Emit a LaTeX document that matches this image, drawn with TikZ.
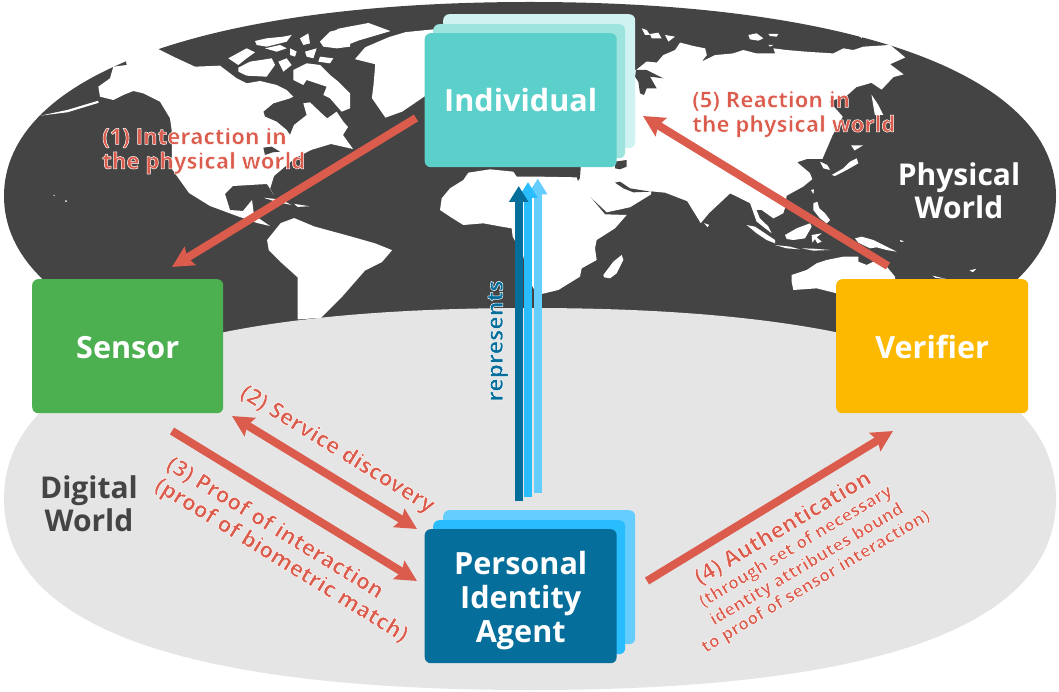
\documentclass[tikz,border=0pt]{standalone}
\usepackage{fontspec}
\setmainfont{Open Sans}
\usetikzlibrary{arrows.meta}
\definecolor{darkmap}{HTML}{444444}
\definecolor{graymap}{HTML}{E5E5E5}
\definecolor{redarrow}{HTML}{DB5C4C}
\definecolor{tealA}{HTML}{5BCFC9}
\definecolor{tealB}{HTML}{9DE3DE}
\definecolor{tealC}{HTML}{CFF3F1}
\definecolor{blueA}{HTML}{056E9B}
\definecolor{blueB}{HTML}{29BDFD}
\definecolor{blueC}{HTML}{66CEFF}
\definecolor{greenbox}{HTML}{4CAF50}
\definecolor{yellowbox}{HTML}{FDB900}
\newcommand{\halotext}[1]{\special{pdf:code q 2 Tr 0.5 w 1 j 1 1 1 RG}#1\special{pdf:code Q}}
\tikzset{
  x=1pt,y=-1pt,
  box/.style={rounded corners=6pt,minimum width=192pt,minimum height=134pt,inner sep=0pt,anchor=north west},
  boxtext/.style={text=white,font=\bfseries\fontsize{30.6}{34}\selectfont,align=center,inner sep=0pt},
  sidelabel/.style={text=white,font=\bfseries\fontsize{30}{33}\selectfont,align=center,inner sep=0pt},
  redline/.style={draw=redarrow,line width=8pt},
  redtip/.style={-{Stealth[length=21pt,width=21pt,inset=3pt]}},
  redtips/.style={{Stealth[length=21pt,width=21pt,inset=3pt]}-{Stealth[length=21pt,width=21pt,inset=3pt]}},
  repline/.style={line width=8.4pt,-{Triangle[length=16pt,width=18.5pt]}},
  redlabel/.style={text=redarrow,inner sep=0pt,align=left},
  big/.style={font=\bfseries\fontsize{22.2}{26}\selectfont},
  small/.style={font=\bfseries\fontsize{17.5}{20}\selectfont},
  land/.style={fill=white,draw=none},
  sea/.style={fill=darkmap,draw=none},
}
\begin{document}
\begin{tikzpicture}
\useasboundingbox (0,0) rectangle (1059,692);
\fill[white] (0,0) rectangle (1059,692);
% dark physical world
\fill[darkmap] (4,196) .. controls (4,76) and (204,2) .. (530,2) .. controls (856,2) and (1056,76) .. (1056,196) .. controls (1056,316) and (856,390) .. (530,390) .. controls (204,390) and (4,316) .. (4,196) -- cycle;
% America, first crop scale
\begin{scope}[xscale=0.33807,yscale=0.33807]
\fill[land] (120,342)--(200,325)--(290,298)--(292,304)--(200,332)--cycle;
\fill[land] (947,124)--(1000,85)--(1090,68)--(1155,92)--(1060,120)--(1010,140)--(965,135)--cycle;
\fill[land] (1050,175)--(1080,140)--(1150,110)--(1200,95)--(1300,85)--(1300,280)--(1256,285)--(1190,330)--(1140,348)--(1100,290)--(1105,250)--(1110,190)--cycle;
\fill[land] (790,710)--(830,660)--(870,645)--(930,670)--(1040,700)--(1110,720)--(1160,740)--(1130,775)--(1080,800)--(1010,880)--(950,940)--(880,945)--(880,820)--(830,775)--(795,740)--cycle;
\fill[land] (780,585)--(830,590)--(862,606)--(820,598)--cycle;
\fill[land] (870,603)--(915,610)--(880,612)--cycle;
\fill[land] (160,578) circle (2) (195,595) circle (3);
\end{scope}
% North America
\begin{scope}[shift={(90,15)},xscale=1/3,yscale=1/3]
\fill[land] (25,215)--(60,190)--(70,155)--(110,150)--(105,120)--(150,108)--(200,100)--(250,125)--(315,155)--(390,152)--(440,190)--(470,205)--(510,198)--(560,210)--(590,225)--(610,245)--(600,250)--(550,265)--(520,290)--(525,305)--(560,320)--(590,345)--(600,360)--(612,330)--(650,300)--(640,265)--(660,262)--(700,300)--(712,310)--(740,290)--(760,320)--(774,336)--(759,360)--(789,402)--(723,387)--(663,405)--(612,432)--(552,483)--(540,522)--(552,540)--(531,507)--(429,513)--(405,537)--(420,585)--(459,588)--(486,555)--(492,600)--(540,633)--(501,624)--(441,603)--(360,573)--(297,534)--(267,492)--(246,462)--(245,345)--(240,310)--(225,285)--(210,260)--(160,235)--(130,228)--(100,240)--(70,255)--(30,245)--cycle;
\fill[sea] (520,398)--(545,395)--(570,410)--(548,412)--(525,420)--cycle;
\fill[land] (415,130)--(470,100)--(495,112)--(470,130)--(445,150)--cycle;
\fill[land] (445,158)--(480,140)--(545,130)--(555,150)--(530,185)--(470,182)--(445,170)--cycle;
\fill[land] (495,78)--(530,70)--(580,65)--(605,60)--(590,80)--(530,95)--(500,90)--cycle;
\fill[land] (525,100)--(570,90)--(590,100)--(560,110)--cycle;
\fill[land] (630,70)--(655,55)--(660,85)--(640,90)--cycle;
\fill[land] (565,140)--(590,130)--(605,150)--(580,170)--cycle;
\fill[land] (600,100)--(620,110)--(615,125)--(600,120)--cycle;
\fill[land] (645,110)--(680,100)--(670,130)--(650,125)--cycle;
\fill[land] (690,125)--(730,130)--(720,145)--(685,140)--cycle;
\fill[land] (610,165)--(650,145)--(690,150)--(720,180)--(745,200)--(780,235)--(780,280)--(755,290)--(720,250)--(700,240)--(710,215)--(680,205)--(650,195)--(640,210)--(610,195)--cycle;
\fill[land] (690,80)--(720,50)--(780,35)--(780,95)--(740,100)--(700,95)--cycle;
\end{scope}
% Africa
\begin{scope}[shift={(430,160)},xscale=1/3,yscale=1/3]
\fill[land] (30,150)--(35,115)--(60,85)--(100,60)--(115,38)--(180,28)--(250,35)--(260,50)--(330,50)--(440,52)--(445,68)--(525,163)--(590,165)--(555,205)--(500,240)--(495,265)--(500,300)--(455,325)--(450,350)--(385,390)--(335,402)--(310,385)--(295,350)--(280,290)--(265,260)--(248,230)--(245,205)--(215,200)--(160,190)--(100,195)--(60,170)--cycle;
\fill[land] (520,345)--(550,305)--(575,285)--(580,300)--(560,340)--(540,355)--(522,352)--cycle;
\end{scope}
% Eurasia
\begin{scope}[shift={(530,0)},xscale=0.33807,yscale=0.33807]
\fill[land] (148,527)--(150,495)--(100,400)--(200,210)--(314,207)--(345,182)--(375,185)--(394,163)--(429,148)--(444,126)--(483,136)--(518,143)--(523,163)--(508,182)--(547,163)--(601,158)--(631,148)--(670,158)--(725,158)--(720,143)--(759,148)--(818,153)--(897,158)--(927,143)--(956,148)--(986,138)--(1065,133)--(1080,145)--(1110,170)--(1065,190)--(1105,220)--(1075,228)--(1040,265)--(1010,245)--(965,258)--(935,285)--(885,300)--(925,345)--(895,400)--(865,470)--(820,470)--(790,480)--(828,512)--(835,530)--(808,552)--(759,579)--(754,616)--(749,631)--(720,646)--(685,621)--(670,621)--(680,646)--(705,670)--(715,690)--(695,675)--(670,655)--(651,601)--(621,586)--(592,572)--(530,630)--(505,660)--(465,595)--(400,570)--(358,566)--(358,575)--(296,613)--(227,628)--(177,581)--(138,542)--cycle;
\fill[land] (515,660)--(530,665)--(525,672)--cycle;
\fill[land] (950,430)--(985,430)--(960,445)--cycle;
\fill[land] (1010,280)--(1030,310)--(1045,340)--(1020,340)--cycle;
\fill[land] (1300,800)--(1320,795)--(1310,805)--cycle;
\fill[land] (1190,815)--(1230,825)--(1200,822)--cycle;
\end{scope}
\begin{scope}[shift={(430,160)},xscale=1/3,yscale=1/3]
\fill[sea] (555,5)--(590,0)--(590,20)--(570,28)--(555,25)--cycle;
\fill[sea] (555,68)--(570,65)--(600,85)--(662,95)--(610,97)--(580,85)--cycle;
\end{scope}
% Siberia details
\begin{scope}[shift={(630,20)},xscale=1/3,yscale=1/3]
\fill[sea] (18,150)--(50,150)--(100,175)--(60,170)--(80,205)--(50,205)--(42,225)--(30,220)--(25,185)--(15,170)--cycle;
\fill[land] (35,25)--(50,30)--(60,45)--(45,45)--cycle;
\fill[land] (60,42)--(85,38)--(95,55)--(65,55)--cycle;
\fill[land] (105,45)--(135,50)--(115,65)--cycle;
\fill[land] (355,45)--(380,40)--(400,55)--(385,62)--(360,58)--cycle;
\fill[land] (415,42)--(445,42)--(440,50)--(420,48)--cycle;
\fill[land] (415,75)--(430,75)--(420,80)--cycle;
\fill[land] (685,45)--(700,40)--(695,55)--cycle;
\end{scope}
% Asia-Pacific
\begin{scope}[shift={(730,160)},xscale=1/3,yscale=1/3]
\fill[land] (50,195)--(75,200)--(105,220)--(135,240)--(135,250)--(110,240)--(80,220)--cycle;
\fill[land] (135,255)--(180,260)--(210,268)--(170,265)--cycle;
\fill[land] (215,265)--(250,266)--(300,270)--(250,272)--cycle;
\fill[land] (165,225)--(200,205)--(240,190)--(245,200)--(225,235)--(190,240)--(170,237)--cycle;
\fill[land] (245,225)--(275,220)--(260,232)--(275,245)--(262,250)--(255,237)--(247,248)--cycle;
\fill[land] (250,130)--(262,125)--(268,145)--(285,160)--(300,180)--(290,190)--(270,175)--(250,150)--cycle;
\fill[land] (243,90)--(252,88)--(250,102)--cycle;
\fill[land] (305,45)--(340,25)--(360,5)--(380,-5)--(385,10)--(350,30)--(315,48)--cycle;
\fill[land] (270,5)--(292,15)--(300,30)--(280,25)--cycle;
\fill[land] (375,235)--(395,230)--(430,240)--(470,260)--(500,275)--(470,270)--(440,262)--(420,265)--(385,248)--cycle;
\fill[land] (510,240)--(522,244)--(512,246)--cycle;
\fill[land] (185,345)--(230,330)--(260,310)--(290,300)--(340,290)--(385,290)--(385,305)--(410,315)--(430,305)--(470,320)--(495,350)--(495,400)--(320,400)--(260,385)--(190,390)--(185,365)--cycle;
\end{scope}
% gray digital world
\fill[graymap] (4,499) .. controls (4,372) and (182,308) .. (530,308) .. controls (878,308) and (1056,372) .. (1056,499) .. controls (1056,626) and (878,690) .. (530,690) .. controls (182,690) and (4,626) .. (4,499) -- cycle;
% world labels
\node[sidelabel] (physical) at (959,191) {Physical\\World};
\node[sidelabel,text=darkmap] (digital) at (89,504) {Digital\\World};
% boxes
\node[box,fill=tealC] (indC) at (443,14) {};
\node[box,fill=tealB] (indB) at (433,24) {};
\node[box,fill=tealA] (individual) at (424.5,33) {};
\node[box,fill=blueC] (pidC) at (443,510) {};
\node[box,fill=blueB] (pidB) at (433,520) {};
\node[box,fill=blueA] (agent) at (424.5,529) {};
\node[box,fill=greenbox,minimum width=191pt] (sensor) at (32,279) {};
\node[box,fill=yellowbox] (verifier) at (836,279) {};
\node[boxtext] (individualtext) at ([yshift=0pt]individual.center) {Individual};
\node[boxtext] (agenttext) at ([yshift=-4pt]agent.center) {Personal\\Identity\\Agent};
\node[boxtext] (sensortext) at ([yshift=-1pt]sensor.center) {Sensor};
\node[boxtext] (verifiertext) at ([yshift=-1pt]verifier.center) {Verifier};
% arrow end points
\coordinate (a1s) at (416,118); \coordinate (a1e) at (172,267);
\coordinate (a2s) at (232,416); \coordinate (a2e) at (417,529);
\coordinate (a3s) at (172,431); \coordinate (a3e) at (417,581);
\coordinate (a4s) at (647,581); \coordinate (a4e) at (893,431);
\coordinate (a5s) at (888,266); \coordinate (a5e) at (643,116);
\draw[redline,redtip] (a1s) -- (a1e);
\draw[redline,redtips] (a2s) -- (a2e);
\draw[redline,redtip] (a3s) -- (a3e);
\draw[redline,redtip] (a4s) -- (a4e);
\draw[redline,redtip] (a5s) -- (a5e);
% represents arrows
\coordinate (r1s) at (518.7,501); \coordinate (r1e) at (518.7,186);
\coordinate (r2s) at (528,497.3); \coordinate (r2e) at (528,182);
\coordinate (r3s) at (537.7,493.3); \coordinate (r3e) at (537.7,178.5);
\draw[repline,blueC] (r3s) -- (r3e);
\draw[repline,blueB] (r2s) -- (r2e);
\draw[repline,blueA] (r1s) -- (r1e);
\node[text=blueA,rotate=90,inner sep=0pt,font=\bfseries\fontsize{22.6}{25}\selectfont] (rep) at (498,341) {\halotext{represents}};
% labels
\node[redlabel,big,anchor=base west] (l1a) at (102,144.3) {\halotext{(1) Interaction in}};
\node[redlabel,big,anchor=base west] (l1b) at (102,168.8) {\halotext{the physical world}};
\node[redlabel,big,anchor=base west] (l5a) at (692,107.5) {\halotext{(5) Reaction in}};
\node[redlabel,big,anchor=base west] (l5b) at (692,132) {\halotext{the physical world}};
\node[redlabel,big,rotate=-31.6] (l2) at (337,450) {\halotext{(2) Service discovery}};
\node[redlabel,big,rotate=-31.6] (l3a) at (275,528) {\halotext{(3) Proof of interaction}};
\node[redlabel,big,rotate=-31.6] (l3b) at (281,561) {\halotext{(proof of biometric match)}};
\node[redlabel,big,rotate=30.8] (l4a) at (783,528) {\halotext{(4) Authentication}};
\node[redlabel,small,rotate=30.8] (l4b) at (796,547) {\halotext{(through set of necessary}};
\node[redlabel,small,rotate=30.8] (l4c) at (807,565) {\halotext{identity attributes bound}};
\node[redlabel,small,rotate=30.8] (l4d) at (816,582) {\halotext{to proof of sensor interaction)}};
\end{tikzpicture}
\end{document}
